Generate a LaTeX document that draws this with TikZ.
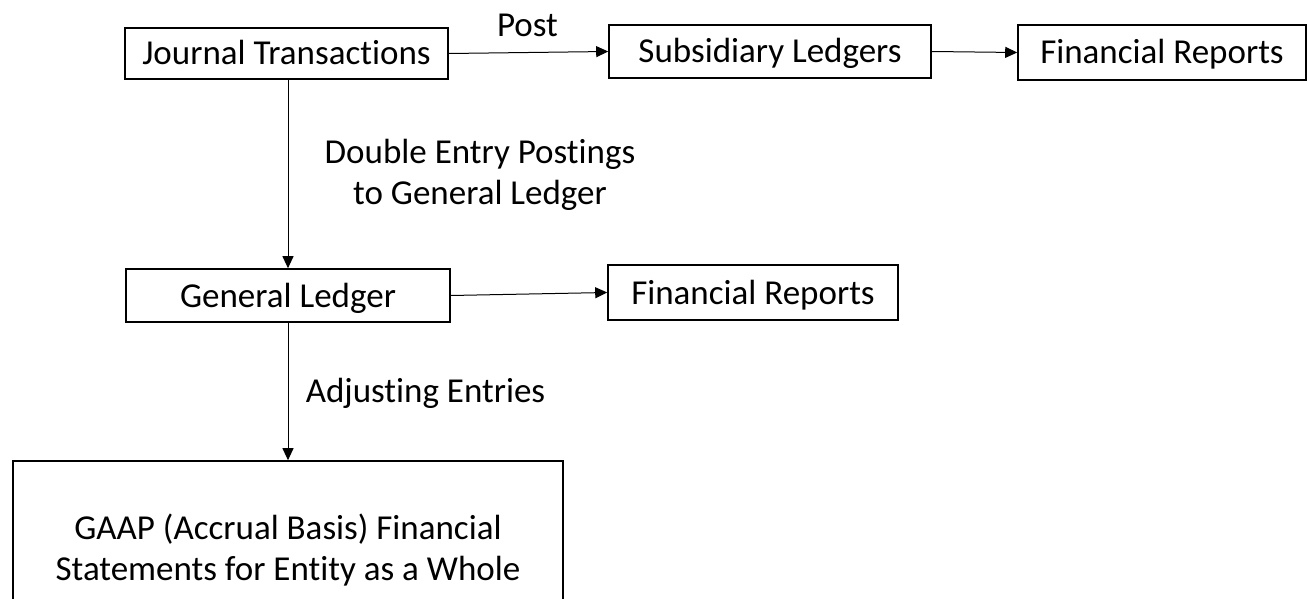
\documentclass[tikz,border=0pt]{standalone}
\usepackage{fontspec}
\setmainfont{Carlito}[Ligatures=NoCommon]
\usetikzlibrary{arrows.meta}
\begin{document}
\begin{tikzpicture}[x=1pt,y=-1pt,
  font=\fontsize{35}{41}\selectfont,
  box/.style={draw=black, line width=1.6pt, rectangle, inner sep=0pt, align=center},
  onebox/.style={box, text height=23pt, text depth=0pt},
  conn/.style={draw=black, line width=1pt, -{Triangle[length=12pt,width=11pt]}},
  lbl/.style={inner sep=0pt, align=center}]
\useasboundingbox (0,0) rectangle (1307,599);
\clip (0,0) rectangle (1307,599);
% nodes
\node[onebox, minimum width=323pt, minimum height=51pt] (jt) at (286.5,53.5) {Journal Transactions};
\node[onebox, minimum width=322pt, minimum height=53pt] (sl) at (770,51.5) {Subsidiary Ledgers};
\node[onebox, minimum width=288pt, minimum height=55pt] (fr1) at (1162,52.5) {Financial Reports};
\node[onebox, minimum width=324pt, minimum height=53pt] (gl) at (288,295.5) {General Ledger};
\node[onebox, minimum width=290pt, minimum height=55pt] (fr2) at (753,292.5) {Financial Reports};
\node[box, minimum width=550pt, minimum height=178pt] (gaap) at (288,550) {GAAP (Accrual Basis) Financial\\Statements for Entity as a Whole};
% labels
\node[lbl, anchor=base] (post) at (527.5,37) {Post};
\node[lbl] (dep) at (480,175) {Double Entry Postings\\to General Ledger};
\node[lbl, anchor=base] (adj) at (425.5,402) {Adjusting Entries};
% connectors
\draw[conn] (jt.east) -- (sl.west);
\draw[conn] (sl.east) -- (fr1.west);
\draw[conn] (jt.south -| gl.north) -- (gl.north);
\draw[conn] (gl.east) -- (fr2.west);
\draw[conn] (gl.south) -- (gaap.north);
\end{tikzpicture}
\end{document}
